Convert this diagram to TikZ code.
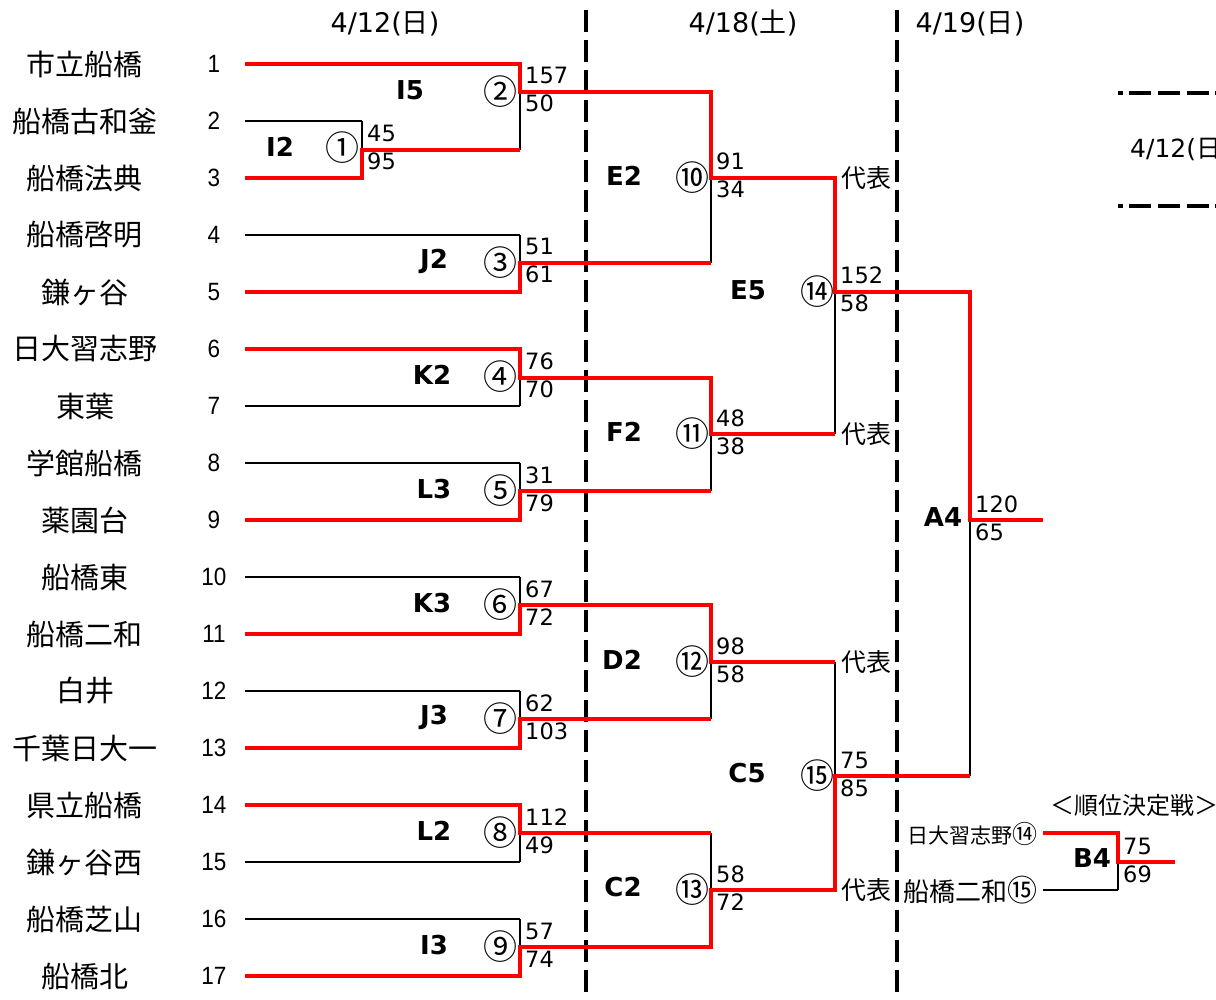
\documentclass[tikz,border=0pt]{standalone}
\usepackage{fontspec}
\setmainfont{DejaVu Sans}
\newfontfamily\jp{Noto Sans CJK JP}
\newfontfamily\tnumfont[FakeStretch=0.9]{Liberation Sans}
\newcommand\defmatch[5]{%
  \coordinate (#1a) at (#2,#3);
  \coordinate (#1b) at (#2,#4);
  \coordinate (#1m) at (#2,#5);
  \draw[lose] (#1a) -- (#1b);
}
\newcommand\scorepair[3]{%
  \node[score] (#1su) at ([shift={(5,-8)}]#1m) {#2};
  \node[score] (#1sl) at ([shift={(5,20)}]#1m) {#3};
}
\begin{document}
\begin{tikzpicture}[x=1pt,y=-1pt,
  win/.style={draw=red, line width=4.3pt, line join=miter},
  lose/.style={draw=black, line width=2pt},
  sepline/.style={draw=black, line width=4.5pt, dash pattern=on 22pt off 8pt},
  legline/.style={draw=black, line width=4pt, dash pattern=on 5pt off 6pt on 22pt off 7pt on 22pt off 7pt on 22pt off 6pt},
  team/.style={font=\jp\fontsize{29}{30}\selectfont, inner sep=0pt},
  seed/.style={font=\tnumfont\fontsize{25}{27}\selectfont, inner sep=0pt},
  score/.style={font=\fontsize{22.5}{24}\selectfont, inner sep=0pt, anchor=base west},
  rnd/.style={font=\bfseries\fontsize{26}{28}\selectfont, inner sep=0pt},
  circ/.style={font=\jp\fontsize{34}{36}\selectfont, inner sep=0pt},
  rep/.style={font=\jp\fontsize{25}{26}\selectfont, inner sep=0pt, anchor=west},
  datelab/.style={font=\fontsize{27}{28}\selectfont, inner sep=0pt, anchor=base},
]
\useasboundingbox (0,0) rectangle (1216,1000);

% dates
\node[datelab] (d1) at (385,33) {4/12({\jp 日})};
\node[datelab] (d2) at (743,33) {4/18({\jp 土})};
\node[datelab] (d3) at (970,33) {4/19({\jp 日})};

% separators
\coordinate (sepAt) at (586,10); \coordinate (sepAb) at (586,1000);
\coordinate (sepBt) at (897,10); \coordinate (sepBb) at (897,1000);
\draw[sepline] (sepAt) -- (sepAb);
\draw[sepline] (sepBt) -- (sepBb);

% teams
\foreach \n/\nm in {1/市立船橋,2/船橋古和釜,3/船橋法典,4/船橋啓明,5/鎌ヶ谷,6/日大習志野,7/東葉,8/学館船橋,9/薬園台,10/船橋東,11/船橋二和,12/白井,13/千葉日大一,14/県立船橋,15/鎌ヶ谷西,16/船橋芝山,17/船橋北}{
  \node[team] (name\n) at (85,{64+57*(\n-1)}) {\nm};
  \node[seed] (seed\n) at (214,{64+57*(\n-1)}) {\n};
  \coordinate (t\n) at (245,{64+57*(\n-1)});
}

% matches
\defmatch{m1}{362}{121}{178}{150}
\defmatch{m2}{520}{64}{150}{92}
\defmatch{m3}{520}{235}{292}{263}
\defmatch{m4}{520}{349}{406}{378}
\defmatch{m5}{520}{463}{520}{491}
\defmatch{m6}{520}{577}{634}{605}
\defmatch{m7}{520}{691}{748}{719}
\defmatch{m8}{520}{805}{862}{833}
\defmatch{m9}{520}{919}{976}{947}
\defmatch{m10}{711}{92}{263}{178}
\defmatch{m11}{711}{378}{491}{434}
\defmatch{m12}{711}{605}{719}{662}
\defmatch{m13}{711}{833}{947}{890}
\defmatch{m14}{835}{178}{434}{292}
\defmatch{m15}{835}{662}{890}{776}
\defmatch{fA}{970}{292}{776}{520}
\defmatch{fB}{1118}{833}{890}{862}
\coordinate (fAout) at (1043,520);
\coordinate (fBout) at (1175,862);
\coordinate (fBin1) at (1043,833);
\coordinate (fBin2) at (1043,890);

% losing team lines
\draw[lose] (t2) -- (m1a);
\draw[lose] (t4) -- (m3a);
\draw[lose] (t7) -- (m4b);
\draw[lose] (t8) -- (m5a);
\draw[lose] (t10) -- (m6a);
\draw[lose] (t12) -- (m7a);
\draw[lose] (t15) -- (m8b);
\draw[lose] (t16) -- (m9a);
\draw[lose] (fBin2) -- (fBb);

% winning paths
\draw[win] (t1) -- (m2a) -- (m2m) -- (m10a) -- (m10m) -- (m14a) -- (m14m) -- (fAa) -- (fAm) -- (fAout);
\draw[win] (t3) -- (m1b) -- (m1m) -- (m2b);
\draw[win] (t5) -- (m3b) -- (m3m) -- (m10b);
\draw[win] (t6) -- (m4a) -- (m4m) -- (m11a) -- (m11m) -- (m14b);
\draw[win] (t9) -- (m5b) -- (m5m) -- (m11b);
\draw[win] (t11) -- (m6b) -- (m6m) -- (m12a) -- (m12m) -- (m15a);
\draw[win] (t13) -- (m7b) -- (m7m) -- (m12b);
\draw[win] (t14) -- (m8a) -- (m8m) -- (m13a);
\draw[win] (t17) -- (m9b) -- (m9m) -- (m13b) -- (m13m) -- (m15b) -- (m15m) -- (fAb);
\draw[win] (fBin1) -- (fBa) -- (fBm) -- (fBout);

% scores
\scorepair{m1}{45}{95}
\scorepair{m2}{157}{50}
\scorepair{m3}{51}{61}
\scorepair{m4}{76}{70}
\scorepair{m5}{31}{79}
\scorepair{m6}{67}{72}
\scorepair{m7}{62}{103}
\scorepair{m8}{112}{49}
\scorepair{m9}{57}{74}
\scorepair{m10}{91}{34}
\scorepair{m11}{48}{38}
\scorepair{m12}{98}{58}
\scorepair{m13}{58}{72}
\scorepair{m14}{152}{58}
\scorepair{m15}{75}{85}
\scorepair{fA}{120}{65}
\scorepair{fB}{75}{69}

% round labels
\node[rnd] (l1) at (280,147) {I2};
\node[rnd] (l2) at (410,90) {I5};
\node[rnd] (l3) at (434,261) {J2};
\node[rnd] (l4) at (432,375) {K2};
\node[rnd] (l5) at (434,489) {L3};
\node[rnd] (l6) at (432,603) {K3};
\node[rnd] (l7) at (434,717) {J3};
\node[rnd] (l8) at (434,831) {L2};
\node[rnd] (l9) at (434,945) {I3};
\node[rnd] (l10) at (624,176) {E2};
\node[rnd] (l11) at (624,432) {F2};
\node[rnd] (l12) at (622,660) {D2};
\node[rnd] (l13) at (623,887) {C2};
\node[rnd] (l14) at (748,290) {E5};
\node[rnd] (l15) at (747,773) {C5};
\node[rnd] (lA) at (943,517) {A4};
\node[rnd] (lB) at (1092,858) {B4};

% circled match numbers
\node[circ] (c1) at (342,148) {①};
\node[circ] (c2) at (500,92) {②};
\node[circ] (c3) at (500,263) {③};
\node[circ] (c4) at (500,377) {④};
\node[circ] (c5) at (500,491) {⑤};
\node[circ] (c6) at (500,605) {⑥};
\node[circ] (c7) at (500,719) {⑦};
\node[circ] (c8) at (500,833) {⑧};
\node[circ] (c9) at (500,947) {⑨};
\node[circ] (c10) at (692,178) {⑩};
\node[circ] (c11) at (692,434) {⑪};
\node[circ] (c12) at (692,662) {⑫};
\node[circ] (c13) at (692,890) {⑬};
\node[circ] (c14) at (817,292) {⑭};
\node[circ] (c15) at (817,776) {⑮};

% representatives
\node[rep] (r1) at (841,178) {代表};
\node[rep] (r2) at (841,434) {代表};
\node[rep] (r3) at (841,662) {代表};
\node[rep] (r4) at (841,890) {代表};

% placement match
\node[font=\jp\fontsize{24}{26}\selectfont, inner sep=0pt, anchor=west] (plhead) at (1050,805) {＜順位決定戦＞};
\node[font=\jp\fontsize{21}{24}\selectfont, inner sep=0pt, anchor=east] (pl1) at (1038,834) {日大習志野{\fontsize{25}{26}\selectfont ⑭}};
\node[font=\jp\fontsize{26}{28}\selectfont, inner sep=0pt, anchor=east] (pl2) at (1038,890) {船橋二和{\fontsize{30}{32}\selectfont ⑮}};

% legend (cut at right edge, as in the reference)
\coordinate (lg1s) at (1118,93); \coordinate (lg1e) at (1240,93);
\coordinate (lg2s) at (1118,206); \coordinate (lg2e) at (1240,206);
\draw[legline] (lg1s) -- (lg1e);
\draw[legline] (lg2s) -- (lg2e);
\node[font=\fontsize{25}{26}\selectfont, inner sep=0pt, anchor=base west] (lgtext) at (1130,158) {4/12({\jp 日})};
\end{tikzpicture}
\end{document}
